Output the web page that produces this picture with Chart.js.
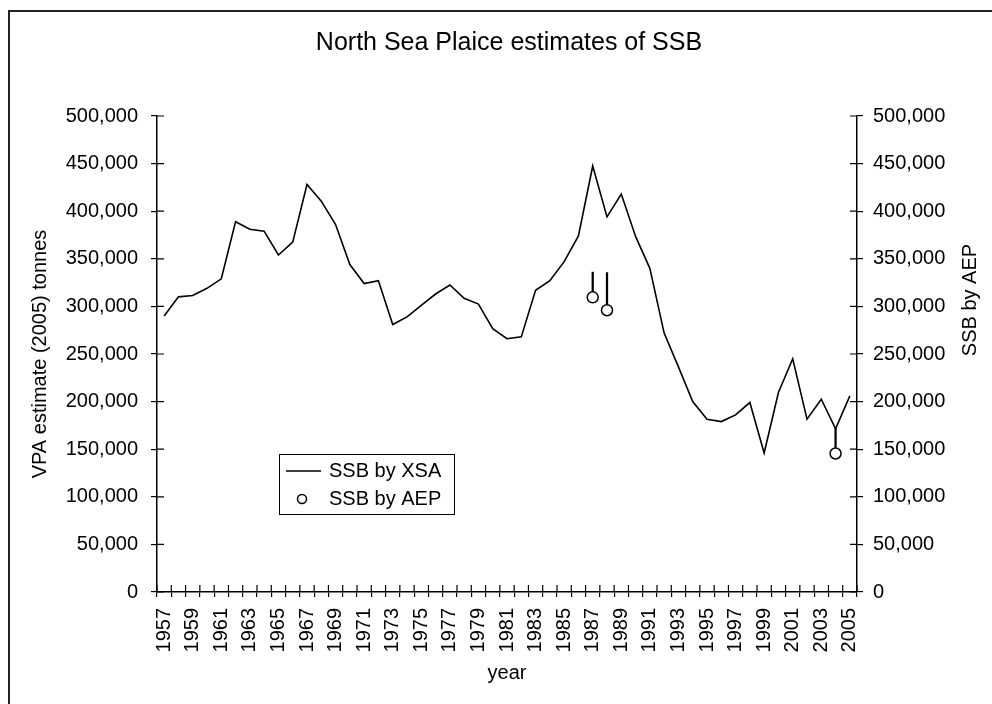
<!DOCTYPE html>
<html>
<head>
<meta charset="utf-8">
<script src="https://cdn.jsdelivr.net/npm/chart.js@4"></script>
<style>
  html, body { margin: 0; padding: 0; background: #fff; }
  #wrap { width: 992px; height: 704px; position: relative; }
</style>
</head>
<body>
<div id="wrap"><canvas id="chart" width="992" height="704"></canvas></div>
<script>
const years = ['1957','1958','1959','1960','1961','1962','1963','1964','1965','1966',
  '1967','1968','1969','1970','1971','1972','1973','1974','1975','1976',
  '1977','1978','1979','1980','1981','1982','1983','1984','1985','1986',
  '1987','1988','1989','1990','1991','1992','1993','1994','1995','1996',
  '1997','1998','1999','2000','2001','2002','2003','2004','2005'];

const ssbXsa = [290000, 310000, 311500, 319000, 329000, 389000, 381000, 379000, 354000, 367500,
  428000, 410500, 386000, 344000, 324000, 327000, 281000, 289000, 301000, 313000,
  322500, 308500, 302500, 276500, 266000, 268000, 317000, 327000, 347000, 374000,
  447500, 394000, 418000, 373500, 340000, 272000, 236500, 200000, 181500, 179000,
  186000, 199000, 146000, 209500, 245000, 181500, 202500, 171500, 206000];

// AEP estimates only for a few years
const aepYears = ['1987', '1988', '2004'];
const aepValues = [309500, 296000, 145500];
const aepUpper = [336000, 335500, 171500];

const FONT = "'Liberation Sans', Arial, sans-serif";

const aepPoints = years.map(y => {
  const i = aepYears.indexOf(y);
  return i < 0 ? null : aepValues[i];
});
const aepBars = years.map(y => {
  const i = aepYears.indexOf(y);
  return i < 0 ? null : [aepValues[i], aepUpper[i]];
});

const extras = {
  id: 'extras',
  beforeDraw(chart) {
    const ctx = chart.ctx;
    ctx.save();
    ctx.strokeStyle = '#222';
    ctx.lineWidth = 2;
    ctx.beginPath();
    ctx.moveTo(9, 704);
    ctx.lineTo(9, 11);
    ctx.lineTo(992, 11);
    ctx.stroke();
    ctx.restore();
  },
  afterDraw(chart) {
    const ctx = chart.ctx;
    const a = chart.chartArea;
    ctx.save();
    ctx.strokeStyle = '#000';
    ctx.lineWidth = 1.2;
    ctx.beginPath();
    // inner halves of the cross ticks
    chart.scales.y.ticks.forEach((t, i) => {
      const p = chart.scales.y.getPixelForTick(i);
      ctx.moveTo(a.left, p); ctx.lineTo(a.left + 7, p);
    });
    chart.scales.y1.ticks.forEach((t, i) => {
      const p = chart.scales.y1.getPixelForTick(i);
      ctx.moveTo(a.right, p); ctx.lineTo(a.right - 7, p);
    });
    const step = (a.right - a.left) / years.length;
    for (let i = 0; i <= years.length; i++) {
      const x = a.left + i * step;
      ctx.moveTo(x, a.bottom); ctx.lineTo(x, a.bottom - 7);
    }
    ctx.stroke();

    ctx.fillStyle = '#000';
    ctx.textAlign = 'center';
    ctx.textBaseline = 'middle';
    // chart title, centred over the plot
    ctx.font = '25px ' + FONT;
    ctx.fillText('North Sea Plaice estimates of SSB', 509, 43);

    // right axis title
    ctx.font = '20px ' + FONT;
    ctx.translate(970, 300);
    ctx.rotate(-Math.PI / 2);
    ctx.fillText('SSB by AEP', 0, 0);
    ctx.restore();

    // legend
    ctx.save();
    ctx.strokeStyle = '#000';
    ctx.lineWidth = 1;
    ctx.strokeRect(279.5, 454.5, 175, 60);
    ctx.lineWidth = 1.5;
    ctx.beginPath();
    ctx.moveTo(286, 471); ctx.lineTo(321, 471);
    ctx.stroke();
    ctx.beginPath();
    ctx.arc(302, 499, 4.5, 0, Math.PI * 2);
    ctx.stroke();
    ctx.fillStyle = '#000';
    ctx.font = '20px ' + FONT;
    ctx.textAlign = 'left';
    ctx.textBaseline = 'middle';
    ctx.fillText('SSB by XSA', 329, 471);
    ctx.fillText('SSB by AEP', 329, 499);
    ctx.restore();
  }
};

new Chart(document.getElementById('chart'), {
  data: {
    labels: years,
    datasets: [
      {
        type: 'line',
        label: 'SSB by XSA',
        data: ssbXsa,
        borderColor: '#000',
        borderWidth: 1.6,
        pointRadius: 0,
        tension: 0,
        yAxisID: 'y',
        order: 1
      },
      {
        type: 'bar',
        label: 'AEP range',
        data: aepBars,
        backgroundColor: '#000',
        borderWidth: 0,
        barThickness: 1.6,
        yAxisID: 'y1',
        order: 2
      },
      {
        type: 'line',
        label: 'SSB by AEP',
        data: aepPoints,
        showLine: false,
        pointRadius: 5.5,
        pointBorderWidth: 1.5,
        pointBorderColor: '#000',
        pointBackgroundColor: '#fff',
        yAxisID: 'y1',
        order: 0
      }
    ]
  },
  options: {
    responsive: false,
    animation: false,
    layout: { padding: { top: 116 } },
    plugins: {
      legend: { display: false },
      tooltip: { enabled: false },
      title: { display: false }
    },
    scales: {
      x: {
        offset: true,
        afterFit(s) { s.height = 112; },
        grid: { display: true, drawOnChartArea: false, offset: true, tickLength: 5, color: '#000', lineWidth: 1.2 },
        border: { display: true, color: '#000', width: 1.5 },
        ticks: {
          autoSkip: false,
          minRotation: 90,
          maxRotation: 90,
          padding: 11,
          color: '#000',
          font: { family: FONT, size: 20 },
          callback: (v, i) => (i % 2 === 0 ? years[i] : '')
        },
        title: {
          display: true,
          text: 'year',
          color: '#000',
          font: { family: FONT, size: 20 },
          padding: { top: 0, bottom: 18.4 }
        }
      },
      y: {
        position: 'left',
        min: 0,
        max: 500000,
        afterFit(s) { s.width = 157; },
        grid: { display: true, drawOnChartArea: false, tickLength: 6, color: '#000', lineWidth: 1.2 },
        border: { display: true, color: '#000', width: 1.5 },
        ticks: {
          stepSize: 50000,
          padding: 13,
          color: '#000',
          font: { family: FONT, size: 20 },
          callback: v => v.toLocaleString('en-US')
        },
        title: {
          display: true,
          text: 'VPA estimate (2005) tonnes',
          color: '#000',
          font: { family: FONT, size: 20 },
          padding: { top: 28, bottom: 0 }
        }
      },
      y1: {
        position: 'right',
        min: 0,
        max: 500000,
        afterFit(s) { s.width = 135; },
        grid: { display: true, drawOnChartArea: false, tickLength: 6, color: '#000', lineWidth: 1.2 },
        border: { display: true, color: '#000', width: 1.5 },
        ticks: {
          stepSize: 50000,
          padding: 10,
          color: '#000',
          font: { family: FONT, size: 20 },
          callback: v => v.toLocaleString('en-US')
        }
      }
    }
  },
  plugins: [extras]
});
</script>
</body>
</html>
